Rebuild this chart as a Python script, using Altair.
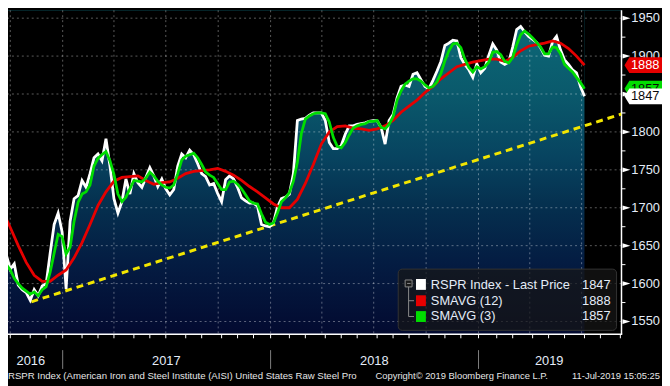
import altair as alt
import pandas as pd

W, H = 621, 328
Y_MIN, Y_MAX = 1533.1, 1960.4


def ms(d):
    return int(pd.Timestamp(d).value // 10**6)


X_DOMAIN = [ms("2016-09-27"), ms("2019-09-09")]

# weekly observation dates (week ending Saturday)
weeks = pd.date_range("2016-09-17", periods=147, freq="7D").strftime("%Y-%m-%d").tolist()

price = [
    1640, 1638, 1619, 1626, 1598, 1592, 1588, 1578, 1592, 1584,
    1597, 1600, 1640, 1678, 1693, 1668, 1593, 1682, 1712, 1716,
    1736, 1727, 1745, 1766, 1771, 1762, 1791, 1755, 1712, 1693,
    1708, 1738, 1718, 1745, 1733, 1727, 1740, 1753, 1742, 1728,
    1738, 1725, 1717, 1724, 1755, 1771, 1766, 1776, 1770, 1758,
    1745, 1741, 1730, 1732, 1719, 1708, 1737, 1742, 1738, 1727,
    1713, 1709, 1706, 1706, 1702, 1678, 1676, 1675, 1680, 1701,
    1712, 1714, 1718, 1745, 1815, 1817, 1818, 1822, 1825, 1825,
    1825, 1815, 1786, 1778, 1778, 1782, 1797, 1808, 1808, 1810,
    1811, 1812, 1814, 1815, 1815, 1806, 1784, 1815, 1823, 1845,
    1860, 1862, 1860, 1876, 1878, 1869, 1860, 1857, 1868, 1880,
    1893, 1914, 1917, 1921, 1920, 1898, 1889, 1882, 1872, 1890,
    1878, 1884, 1901, 1916, 1908, 1892, 1889, 1892, 1912, 1935,
    1939, 1932, 1926, 1922, 1918, 1911, 1901, 1900, 1919, 1926,
    1908, 1895, 1889, 1882, 1878, 1860, 1847,
]

sma3 = [
    1631, 1625, 1618, 1607, 1600, 1594, 1590, 1586, 1589, 1584,
    1592, 1596, 1615, 1640, 1665, 1662, 1639, 1648, 1682, 1707,
    1718, 1721, 1730, 1755, 1765, 1770, 1774, 1762, 1744, 1718,
    1708, 1714, 1725, 1736, 1735, 1734, 1739, 1747, 1742, 1735,
    1730, 1727, 1726, 1730, 1745, 1763, 1768, 1770, 1772, 1766,
    1757, 1747, 1743, 1740, 1732, 1724, 1724, 1734, 1735, 1731,
    1725, 1717, 1709, 1706, 1705, 1692, 1681, 1678, 1680, 1693,
    1708, 1713, 1720, 1735, 1760, 1798, 1817, 1821, 1824, 1825,
    1825, 1824, 1813, 1793, 1781, 1779, 1786, 1796, 1805, 1808,
    1810, 1811, 1814, 1814, 1815, 1806, 1804, 1810, 1820, 1842,
    1854, 1863, 1867, 1870, 1870, 1867, 1862, 1858, 1860, 1866,
    1877, 1894, 1907, 1916, 1917, 1911, 1896, 1885, 1879, 1886,
    1883, 1886, 1892, 1905, 1906, 1902, 1893, 1891, 1898, 1915,
    1928, 1933, 1929, 1924, 1918, 1912, 1903, 1903, 1912, 1911,
    1903, 1889, 1884, 1879, 1872, 1865, 1857,
]

# 12-period average, read every second week
sma12 = [
    1697, 1674, 1650, 1628, 1611, 1603, 1603, 1611, 1618, 1634,
    1654, 1678, 1703, 1721, 1735, 1740, 1741, 1742, 1736, 1731,
    1733, 1734, 1739, 1745, 1748, 1749, 1750, 1752, 1748, 1743,
    1736, 1728, 1721, 1713, 1705, 1700, 1700, 1711, 1732, 1757,
    1784, 1800, 1807, 1808, 1805, 1804, 1802, 1804, 1808, 1815,
    1826, 1834, 1842, 1852, 1860, 1870, 1878, 1886, 1889, 1892,
    1894, 1896, 1896, 1893, 1898, 1907, 1913, 1915, 1917, 1920,
    1917, 1910, 1900, 1888,
]
sma12_dates = weeks[::2]

trend_dates = ["2016-11-07", "2019-09-09"]
trend_values = [1576, 1823.6]

y_major = [1550, 1600, 1650, 1700, 1750, 1800, 1850, 1900, 1950]
y_minor = [1575, 1625, 1675, 1725, 1775, 1825, 1875, 1925]
quarter_dates = pd.date_range("2016-10-01", "2019-07-01", freq="QS").strftime("%Y-%m-%d").tolist()

month_ticks = []
for d in pd.date_range("2016-10-01", "2019-09-01", freq="MS"):
    if d.month != 1:
        d = d + pd.Timedelta(days=(5 - d.weekday()) % 7)
    month_ticks.append(d.strftime("%Y-%m-%d"))

year_labels = ["2016", "2017", "2018", "2019"]
year_label_dates = ["2016-11-06", "2017-07-02", "2018-07-02", "2019-05-05"]
year_sep_dates = ["2017-01-01", "2018-01-01", "2019-01-01"]

series_names = ["RSPR Index - Last Price", "SMAVG (12)", "SMAVG (3)"]
series_colors = ["#ffffff", "#e60000", "#00dd00"]
last_values = [price[-1], sma12[-1], sma3[-1]]

footer_left = "RSPR Index (American Iron and Steel Institute (AISI) United States Raw Steel Pro"
footer_mid = "Copyright\u00a9 2019 Bloomberg Finance L.P."
footer_right = "11-Jul-2019 15:05:25"

FONT = "Liberation Sans"
TXT = "#e4ecf8"

xs = alt.Scale(domain=X_DOMAIN)
ys = alt.Scale(domain=[Y_MIN, Y_MAX], nice=False, zero=False)


def X(field="date"):
    return alt.X(f"{field}:T", scale=xs, axis=None)


def Y(field="value"):
    return alt.Y(f"{field}:Q", scale=ys, axis=None)


one = pd.DataFrame({"k": [0]})

df_price = pd.DataFrame({"date": weeks, "value": price})
df_sma3 = pd.DataFrame({"date": weeks, "value": sma3})
df_sma12 = pd.DataFrame({"date": sma12_dates, "value": sma12})
df_trend = pd.DataFrame({"date": trend_dates, "value": trend_values})
df_major = pd.DataFrame({"value": y_major, "label": [str(v) for v in y_major]})
df_last = pd.DataFrame({"date": [weeks[-1]]})

gradient = alt.Gradient(
    gradient="linear",
    stops=[
        alt.GradientStop(color="#0d6b7a", offset=0),
        alt.GradientStop(color="#0a5a6c", offset=0.25),
        alt.GradientStop(color="#074460", offset=0.45),
        alt.GradientStop(color="#05304f", offset=0.6),
        alt.GradientStop(color="#041c42", offset=0.78),
        alt.GradientStop(color="#030a30", offset=1),
    ],
    x1=0, x2=0, y1=0, y2=1,
)

# gradient backdrop over the plot, masked in black above the price line
backdrop = alt.Chart(one).mark_rect(fill=gradient, opacity=1).encode(
    x=alt.value(0), x2=alt.value(W), y=alt.value(0), y2=alt.value(H)
)
mask_above = alt.Chart(df_price).mark_area(color="black", opacity=1, line=False, clip=True).encode(
    x=X(), y=Y(), y2=alt.datum(Y_MAX)
)
mask_after = alt.Chart(df_last).mark_rect(color="black", opacity=1, clip=True).encode(
    x=X(), x2=alt.value(W), y=alt.value(0), y2=alt.value(H)
)

hgrid = alt.Chart(df_major).mark_rule(
    color="white", opacity=0.36, strokeDash=[2, 3], strokeWidth=1
).encode(y=Y())

vgrid = alt.Chart(pd.DataFrame({"date": quarter_dates})).mark_rule(
    color="white", opacity=0.36, strokeDash=[2, 3], strokeWidth=1
).encode(x=X())

bottom_line = alt.Chart(one).mark_rule(color="white", strokeWidth=1.5).encode(
    x=alt.value(0), x2=alt.value(W + 0.75), y=alt.value(H)
)
right_line = alt.Chart(one).mark_rule(color="white", strokeWidth=1.5).encode(
    x=alt.value(W), y=alt.value(0), y2=alt.value(H)
)

mticks = alt.Chart(pd.DataFrame({"date": month_ticks})).mark_rule(color="white", strokeWidth=1).encode(
    x=X(), y=alt.value(H), y2=alt.value(H + 4)
)

yminor = alt.Chart(pd.DataFrame({"value": y_minor})).mark_rule(color="white", strokeWidth=1).encode(
    x=alt.value(W), x2=alt.value(W + 4), y=Y()
)

ymajor_tri = alt.Chart(df_major).mark_point(
    shape="M-1,-0.6L1,0L-1,0.6Z", size=64, filled=True, color="white", opacity=1, strokeWidth=0
).encode(x=alt.value(W + 5), y=Y())

ylabels = alt.Chart(df_major).mark_text(
    align="left", baseline="middle", font=FONT, fontSize=13, color=TXT
).encode(x=alt.value(W + 10), y=Y(), text="label:N")

trend = alt.Chart(df_trend).mark_line(
    color="#f2e600", strokeWidth=3, strokeDash=[7, 5], clip=True
).encode(x=X(), y=Y())

line_price = alt.Chart(df_price).mark_line(color=series_colors[0], strokeWidth=2.8, clip=True).encode(x=X(), y=Y())
line_sma12 = alt.Chart(df_sma12).mark_line(color=series_colors[1], strokeWidth=2.8, clip=True).encode(x=X(), y=Y())
line_sma3 = alt.Chart(df_sma3).mark_line(color=series_colors[2], strokeWidth=2.8, clip=True).encode(x=X(), y=Y())

# legend box
leg_box = alt.Chart(one).mark_rect(
    fill="#161616", fillOpacity=0.72, stroke="#333333", strokeWidth=1, cornerRadius=4
).encode(x=alt.value(395), x2=alt.value(616), y=alt.value(262), y2=alt.value(324))

tree_box = alt.Chart(one).mark_rect(fill="#1a1a1a", stroke="#8a8a8a", strokeWidth=1).encode(
    x=alt.value(402), x2=alt.value(409), y=alt.value(273), y2=alt.value(280)
)
tree_minus = alt.Chart(one).mark_rule(color="#8a8a8a").encode(
    x=alt.value(404), x2=alt.value(407.5), y=alt.value(276.5)
)
tree_v = alt.Chart(one).mark_rule(color="#8a8a8a").encode(
    x=alt.value(405.5), y=alt.value(280), y2=alt.value(310)
)
tree_h = alt.Chart(pd.DataFrame({"yy": [294, 310]})).mark_rule(color="#8a8a8a").encode(
    x=alt.value(405.5), x2=alt.value(411), y=alt.Y("yy:Q", scale=None, axis=None)
)

leg_rows = pd.DataFrame({
    "name": series_names,
    "color": series_colors,
    "val": [str(v) for v in last_values],
    "yc": [278, 294, 310],
    "y0": [272, 288.5, 304.5],
    "y1": [283, 299.5, 315.5],
})
leg_sq = alt.Chart(leg_rows).mark_rect().encode(
    x=alt.value(413), x2=alt.value(423),
    y=alt.Y("y0:Q", scale=None, axis=None), y2="y1:Q",
    fill=alt.Color("color:N", scale=None),
)
leg_txt = alt.Chart(leg_rows).mark_text(
    align="left", baseline="middle", font=FONT, fontSize=13, color=TXT
).encode(x=alt.value(428), y=alt.Y("yc:Q", scale=None, axis=None), text="name:N")
leg_val = alt.Chart(leg_rows).mark_text(
    align="right", baseline="middle", font=FONT, fontSize=13, color=TXT
).encode(x=alt.value(610), y=alt.Y("yc:Q", scale=None, axis=None), text="val:N")

# value tags on the right axis (green tag sits behind the white one)
tags = pd.DataFrame({
    "value": [last_values[2], last_values[1], last_values[0]],
    "label": [str(last_values[2]), str(last_values[1]), str(last_values[0])],
    "fill": ["#00dd00", "#e60000", "#ffffff"],
    "tc": ["#0a0a0a", "#ffffff", "#0a0a0a"],
})
tag_shape = "M-0.95,0L-0.7,-0.4L0.95,-0.4L0.95,0.4L-0.7,0.4Z"
tag_layers = []
for _, r in tags.iterrows():
    d = pd.DataFrame([r])
    tag_layers.append(
        alt.Chart(d).mark_point(shape=tag_shape, size=1600, filled=True, opacity=1, strokeWidth=0, color=r["fill"])
        .encode(x=alt.value(643), y=Y())
    )
    tag_layers.append(
        alt.Chart(d).mark_text(align="center", baseline="middle", font=FONT, fontSize=13, color=r["tc"])
        .encode(x=alt.value(645), y=Y(), text="label:N")
    )

years = alt.Chart(pd.DataFrame({"date": year_label_dates, "label": year_labels})).mark_text(
    align="center", baseline="middle", font=FONT, fontSize=13, color=TXT
).encode(x=X(), y=alt.value(H + 27), text="label:N")

year_seps = alt.Chart(pd.DataFrame({"date": year_sep_dates})).mark_rule(color="#808080", strokeWidth=1).encode(
    x=X(), y=alt.value(H + 16), y2=alt.value(H + 35)
)

f_left = alt.Chart(one).mark_text(
    align="left", baseline="middle", font=FONT, fontSize=9.7, color="#e6e6e6", text=footer_left
).encode(x=alt.value(0), y=alt.value(H + 42))
f_mid = alt.Chart(one).mark_text(
    align="left", baseline="middle", font=FONT, fontSize=9.5, color="#e6e6e6", text=footer_mid
).encode(x=alt.value(372), y=alt.value(H + 42))
f_right = alt.Chart(one).mark_text(
    align="right", baseline="middle", font=FONT, fontSize=9.5, color="#e6e6e6", text=footer_right
).encode(x=alt.value(660), y=alt.value(H + 42))

chart = alt.layer(
    backdrop, mask_above, mask_after, hgrid, vgrid, bottom_line, right_line, mticks, yminor,
    ymajor_tri, ylabels, trend,
    line_price, line_sma12, line_sma3,
    leg_box, tree_box, tree_minus, tree_v, tree_h, leg_sq, leg_txt, leg_val,
    *tag_layers, years, year_seps, f_left, f_mid, f_right,
).properties(
    width=W, height=H,
    autosize=alt.AutoSizeParams(type="none"),
    padding={"left": 0, "top": 0, "right": 41, "bottom": 50},
    background="black",
).configure_view(strokeWidth=0)

chart.save("out.html", embed_options={"renderer": "svg", "actions": False})
